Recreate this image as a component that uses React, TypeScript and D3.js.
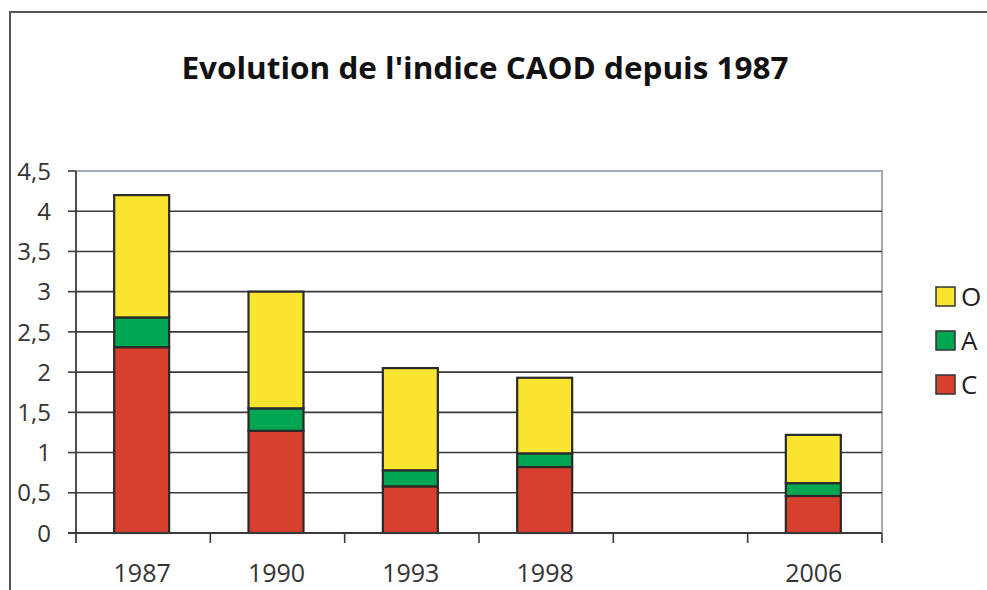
import * as d3 from "d3";

const years = ["1987", "1990", "1993", "1998", "", "2006"];
const seriesC = [2.31, 1.27, 0.58, 0.82, 0, 0.46];
const seriesA = [0.37, 0.28, 0.2, 0.17, 0, 0.16];
const seriesO = [1.52, 1.45, 1.27, 0.94, 0, 0.6];
const yTicks = [0, 0.5, 1, 1.5, 2, 2.5, 3, 3.5, 4, 4.5];
const legendItems = ["O", "A", "C"];

const colors: Record<string, string> = { C: "#d6402d", A: "#00a651", O: "#f9e52f" };

const W = 987;
const H = 590;
const left = 76;
const right = 882;
const top = 171;
const bottom = 533;

export default function App() {
  const x = d3.scaleBand().domain(years.map((d, i) => String(i))).range([left, right]).paddingInner(0).paddingOuter(0);
  const y = d3.scaleLinear().domain([0, 4.5]).range([bottom, top]);

  const table = years.map((yr, i) => ({ key: String(i), year: yr, C: seriesC[i], A: seriesA[i], O: seriesO[i] }));
  const stack = d3.stack<any>().keys(["C", "A", "O"])(table);

  const barW = 55;
  const font = "'Open Sans', 'Noto Sans', sans-serif";
  const fmt = (v: number) => String(v).replace(".", ",");

  return (
    <svg width={W} height={H} style={{ position: "fixed", left: 0, top: 0, background: "#fff" }}>
      {/* outer frame */}
      <path d={`M10,${H} V12 H${W}`} fill="none" stroke="#555" strokeWidth={2} />

      <text x={485} y={79} textAnchor="middle" fontFamily="'Liberation Sans Narrow', 'Open Sans', sans-serif"
        fontWeight="bold" fontSize={30} textLength={607} lengthAdjust="spacingAndGlyphs" fill="#111">
        Evolution de l'indice CAOD depuis 1987
      </text>

      {/* plot border top/right */}
      <path d={`M${left},${y(4.5)} H${right} V${bottom}`} fill="none" stroke="#a3acb6" strokeWidth={2} />

      {/* gridlines + y ticks */}
      {yTicks.map((t) => (
        <g key={t}>
          {t > 0 && t < 4.5 && (
            <line x1={left} x2={right} y1={y(t)} y2={y(t)} stroke="#3a3a3a" strokeWidth={1.6} />
          )}
          <line x1={68} x2={left} y1={y(t)} y2={y(t)} stroke="#3a3a3a" strokeWidth={1.6} />
          <text x={51} y={y(t)} dy="0.36em" textAnchor="end" fontFamily={font} fontSize={24} fill="#333">
            {fmt(t)}
          </text>
        </g>
      ))}

      {/* bars */}
      {stack.map((s) => (
        <g key={s.key} fill={colors[s.key]}>
          {s.map((d) =>
            d[1] - d[0] > 0 ? (
              <rect key={d.data.key} x={x(d.data.key)! + x.bandwidth() / 2 - barW / 2 - 1.5} y={y(d[1])}
                width={barW} height={y(d[0]) - y(d[1])} stroke="#2a2a2a" strokeWidth={2.2} />
            ) : null
          )}
        </g>
      ))}

      {/* axes */}
      <line x1={left} x2={left} y1={y(4.5)} y2={543} stroke="#3a3a3a" strokeWidth={1.8} />
      <line x1={68} x2={right} y1={bottom} y2={bottom} stroke="#3a3a3a" strokeWidth={1.8} />
      {years.map((yr, i) => (
        <g key={i}>
          <line x1={x(String(i))! + x.bandwidth()} x2={x(String(i))! + x.bandwidth()} y1={bottom} y2={543}
            stroke="#3a3a3a" strokeWidth={1.6} />
          <text x={x(String(i))! + x.bandwidth() / 2 - 1} y={582} textAnchor="middle" fontFamily={font} fontSize={25} fill="#333">
            {yr}
          </text>
        </g>
      ))}

      {/* legend */}
      {legendItems.map((k, i) => (
        <g key={k} transform={`translate(936,${287 + i * 44})`}>
          <rect width={19} height={19} fill={colors[k]} stroke="#333" strokeWidth={1.5} />
          <text x={25} y={9.5} dy="0.36em" fontFamily={font} fontSize={26} fill="#222">
            {k}
          </text>
        </g>
      ))}
    </svg>
  );
}
